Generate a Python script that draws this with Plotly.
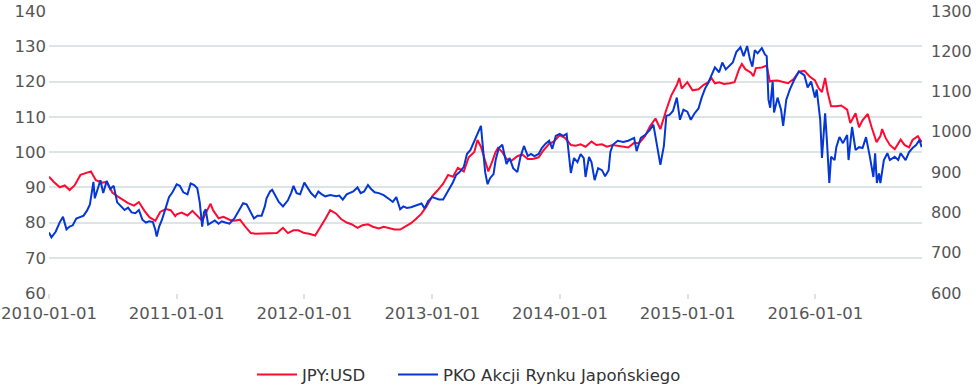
import plotly.graph_objects as go

# ---------------- data ----------------
jpy_dates = [
    "2010-01-01","2010-01-15","2010-02-01","2010-02-15","2010-03-01","2010-03-15","2010-04-01","2010-04-15",
    "2010-05-01","2010-05-15","2010-06-01","2010-06-15","2010-07-01","2010-07-15","2010-08-01","2010-08-15",
    "2010-09-01","2010-09-15","2010-10-01","2010-10-15","2010-11-01","2010-11-15","2010-12-01","2010-12-15","2010-12-28",
    "2011-01-01","2011-01-15","2011-02-01","2011-02-15","2011-03-01","2011-03-15","2011-04-01","2011-04-08","2011-04-15",
    "2011-05-01","2011-05-15","2011-06-01","2011-06-15","2011-07-01","2011-07-15","2011-08-01","2011-08-15",
    "2011-09-01","2011-09-15","2011-10-01","2011-10-15","2011-11-01","2011-11-15","2011-12-01","2011-12-15",
    "2012-01-01","2012-01-15","2012-02-01","2012-02-15","2012-03-01","2012-03-15","2012-04-01","2012-04-15",
    "2012-05-01","2012-05-15","2012-06-01","2012-06-15","2012-07-01","2012-07-15","2012-08-01","2012-08-15",
    "2012-09-01","2012-09-15","2012-10-01","2012-10-15","2012-11-01","2012-11-15","2012-12-01","2012-12-15",
    "2013-01-01","2013-01-15","2013-02-01","2013-02-15","2013-03-01","2013-03-15","2013-04-01","2013-04-15",
    "2013-05-01","2013-05-10","2013-05-20","2013-06-01","2013-06-10","2013-06-20","2013-07-01","2013-07-08","2013-07-20",
    "2013-08-01","2013-08-15","2013-09-01","2013-09-15","2013-10-01","2013-10-15","2013-11-01","2013-11-15",
    "2013-12-01","2013-12-15","2013-12-31",
    "2014-01-15","2014-02-01","2014-02-15","2014-03-01","2014-03-15","2014-04-01","2014-04-15",
    "2014-05-01","2014-05-15","2014-06-01","2014-06-15","2014-07-01","2014-07-15","2014-08-01","2014-08-15",
    "2014-09-01","2014-09-15","2014-10-01","2014-10-15","2014-11-01","2014-11-15","2014-12-01","2014-12-08","2014-12-15","2014-12-31",
    "2015-01-15","2015-02-01","2015-02-15","2015-03-01","2015-03-10","2015-03-20","2015-04-01","2015-04-15",
    "2015-05-01","2015-05-15","2015-05-28","2015-06-05","2015-06-15","2015-07-01","2015-07-08","2015-07-15",
    "2015-08-01","2015-08-15","2015-08-24","2015-09-01","2015-09-15","2015-10-01","2015-10-15","2015-11-01",
    "2015-11-15","2015-12-01","2015-12-15","2015-12-31",
    "2016-01-10","2016-01-20","2016-01-29","2016-02-05","2016-02-15","2016-03-01","2016-03-15","2016-04-01",
    "2016-04-10","2016-04-25","2016-05-05","2016-05-15","2016-05-30","2016-06-10","2016-06-24","2016-07-05",
    "2016-07-10","2016-07-20","2016-08-01","2016-08-15","2016-09-01","2016-09-12","2016-09-25","2016-10-05",
    "2016-10-20","2016-10-31",
]
jpy_values = [
    93.0, 91.5, 90.0, 90.5, 89.2, 90.5, 93.5, 94.0,
    94.5, 92.0, 91.3, 91.5, 88.5, 87.5, 86.5, 85.5,
    84.8, 85.8, 83.3, 81.5, 80.5, 83.0, 83.8, 83.5, 81.8,
    82.3, 82.8, 82.0, 83.3, 82.0, 80.5, 84.0, 85.3, 83.5,
    81.2, 81.6, 80.8, 80.5, 80.8, 79.0, 77.0, 76.8,
    76.8, 77.0, 76.8, 77.0, 78.5, 77.0, 77.8, 77.8,
    77.0, 76.8, 76.3, 78.5, 81.0, 83.5, 82.5, 81.0,
    80.0, 79.5, 78.5, 79.2, 79.5, 78.8, 78.3, 78.8,
    78.3, 78.0, 78.0, 78.8, 79.8, 81.0, 82.5, 84.5,
    87.5, 89.0, 91.0, 93.5, 93.0, 95.5, 94.5, 98.5,
    100.0, 103.4, 101.5, 97.5, 94.5, 97.0, 100.0, 101.2, 100.0,
    98.0, 97.5, 98.8, 99.3, 98.0, 98.0, 98.5, 100.5,
    102.3, 103.0, 104.8,
    104.0, 102.0, 101.8, 102.2, 101.5, 103.0, 102.0,
    102.2, 101.5, 102.0, 101.8, 101.5, 101.3, 102.6, 102.5,
    104.5, 107.2, 109.5, 106.5, 112.0, 116.0, 119.0, 121.0, 118.0, 119.8,
    117.5, 117.8, 119.0, 119.8, 121.0, 119.5, 119.8, 119.3,
    119.5, 119.8, 123.5, 125.0, 123.5, 122.5, 121.5, 123.8,
    124.0, 124.5, 120.0, 120.2, 120.3, 119.8, 119.5, 120.8,
    122.8, 123.0, 121.5, 120.3,
    118.2, 117.0, 121.0, 117.0, 113.0, 113.0, 113.2, 112.0,
    108.2, 111.0, 107.0, 109.0, 110.8, 107.0, 102.8, 104.5,
    106.5, 104.0, 102.0, 100.8, 103.5, 102.0, 101.3, 103.4,
    104.5, 102.8,
]

pko_dates = [
    "2010-01-01","2010-01-08","2010-01-20","2010-02-01","2010-02-10","2010-02-20","2010-03-01","2010-03-10",
    "2010-03-20","2010-04-01","2010-04-10","2010-04-20","2010-04-28","2010-05-03","2010-05-08","2010-05-12",
    "2010-05-20","2010-05-28","2010-06-05","2010-06-15","2010-06-25","2010-07-05","2010-07-15","2010-07-25",
    "2010-08-05","2010-08-15","2010-08-25","2010-09-05","2010-09-15","2010-09-25","2010-10-05","2010-10-15",
    "2010-10-25","2010-11-01","2010-11-05","2010-11-12","2010-11-20","2010-12-01","2010-12-10","2010-12-20",
    "2011-01-01","2011-01-10","2011-01-20","2011-02-01","2011-02-10","2011-02-20","2011-03-01","2011-03-08",
    "2011-03-15","2011-03-20","2011-03-25","2011-04-01","2011-04-10","2011-04-20","2011-05-01","2011-05-10",
    "2011-05-20","2011-06-01","2011-06-15","2011-07-01","2011-07-10","2011-07-20","2011-08-01","2011-08-10",
    "2011-08-20","2011-09-01","2011-09-10","2011-09-15","2011-09-25","2011-10-01","2011-10-10","2011-10-20",
    "2011-11-01","2011-11-15","2011-11-25","2011-12-01","2011-12-10","2011-12-20",
    "2012-01-01","2012-01-10","2012-01-20","2012-02-01","2012-02-10","2012-02-20","2012-03-01","2012-03-15",
    "2012-04-01","2012-04-10","2012-04-20","2012-05-01","2012-05-10","2012-05-20","2012-06-01","2012-06-10",
    "2012-06-20","2012-07-01","2012-07-10","2012-07-20","2012-08-01","2012-08-15","2012-09-01","2012-09-10",
    "2012-09-20","2012-10-01","2012-10-10","2012-10-20","2012-11-01","2012-11-15","2012-12-01","2012-12-10",
    "2012-12-20",
    "2013-01-01","2013-01-10","2013-01-20","2013-02-01","2013-02-10","2013-02-20","2013-03-01","2013-03-10",
    "2013-03-20","2013-04-01","2013-04-10","2013-04-20","2013-05-01","2013-05-10","2013-05-20","2013-05-25",
    "2013-06-01","2013-06-08","2013-06-15","2013-06-25","2013-07-01","2013-07-10","2013-07-20","2013-08-01",
    "2013-08-10","2013-08-20","2013-09-01","2013-09-10","2013-09-20","2013-10-01","2013-10-10","2013-10-20",
    "2013-11-01","2013-11-10","2013-11-20","2013-12-01","2013-12-10","2013-12-20","2013-12-31",
    "2014-01-10","2014-01-20","2014-01-25","2014-02-01","2014-02-10","2014-02-20","2014-03-01","2014-03-10",
    "2014-03-15","2014-03-25","2014-04-01","2014-04-10","2014-04-20","2014-05-01","2014-05-10","2014-05-20",
    "2014-05-25","2014-06-01","2014-06-15","2014-07-01","2014-07-15","2014-08-01","2014-08-08","2014-08-20",
    "2014-09-01","2014-09-15","2014-09-25","2014-10-05","2014-10-15","2014-10-25","2014-11-01","2014-11-10",
    "2014-11-20","2014-12-01","2014-12-10","2014-12-20","2014-12-31",
    "2015-01-10","2015-01-20","2015-02-01","2015-02-10","2015-02-20","2015-03-01","2015-03-10","2015-03-20",
    "2015-04-01","2015-04-10","2015-04-20","2015-05-01","2015-05-10","2015-05-20","2015-06-01","2015-06-10",
    "2015-06-20","2015-06-28","2015-07-05","2015-07-12","2015-07-20","2015-08-01","2015-08-10","2015-08-15",
    "2015-08-20","2015-08-25","2015-09-01","2015-09-05","2015-09-15","2015-09-25","2015-10-01","2015-10-10",
    "2015-10-20","2015-11-01","2015-11-15","2015-12-01","2015-12-10","2015-12-20","2015-12-31",
    "2016-01-05","2016-01-10","2016-01-15","2016-01-20","2016-01-29","2016-02-03","2016-02-10","2016-02-15",
    "2016-02-25","2016-03-01","2016-03-10","2016-03-20","2016-04-01","2016-04-05","2016-04-15","2016-04-25",
    "2016-05-05","2016-05-15","2016-05-25","2016-06-05","2016-06-15","2016-06-20","2016-06-25","2016-07-01",
    "2016-07-05","2016-07-15","2016-07-25","2016-08-01","2016-08-15","2016-08-25","2016-09-01","2016-09-15",
    "2016-09-25","2016-10-05","2016-10-15","2016-10-25","2016-10-31",
]
pko_values = [
    750, 738, 752, 776, 789, 758, 765, 768,
    785, 790, 792, 805, 820, 848, 876, 835,
    860, 880, 848, 878, 858, 866, 825, 815,
    806, 812, 800, 798, 806, 782, 775, 778,
    776, 757, 740, 765, 782, 812, 838, 850,
    870, 866, 850, 845, 872, 868, 860, 825,
    765, 800, 808, 770, 775, 780, 772, 778,
    775, 772, 785, 808, 823, 820, 800, 785,
    792, 792, 815, 835, 852, 856, 842, 826,
    815, 830, 850, 866, 848, 845,
    874, 862, 848, 838, 852, 845, 840, 843,
    840, 842, 832, 845, 848, 852, 862, 848,
    852, 868, 858, 850, 848, 843, 832, 826,
    838, 808, 815, 811, 813, 818, 822, 810,
    828,
    838, 835, 832, 832, 845, 860, 875, 893,
    900, 913, 945, 955, 975, 995, 1015, 960,
    900, 870, 885, 895, 930, 960, 968, 920,
    935, 910, 900, 938, 965, 940, 945, 940,
    945, 960, 970, 978, 958, 990, 995,
    990, 995, 955, 898, 935, 925, 945, 935,
    888, 938, 925, 880, 910, 905, 890, 905,
    950, 968, 978, 975, 978, 985, 952, 985,
    992, 1005, 1018, 970, 918, 965, 1040, 1042,
    1052, 1085, 1030, 1055, 1050,
    1030, 1045, 1058, 1085, 1108, 1122, 1140, 1160,
    1148, 1172, 1155, 1165, 1172, 1198, 1210, 1188,
    1213, 1180, 1162, 1203, 1195, 1208, 1192, 1188,
    1080, 1060, 1125, 1048, 1085, 1055, 1015, 1080,
    1105, 1128, 1150, 1140, 1110, 1125, 1085,
    1105, 1060, 1030, 935, 1046, 980, 873, 938,
    930, 962, 987, 972, 992, 930, 1012, 955,
    962, 960, 987, 938, 888, 947, 873, 897,
    873, 930, 947, 930, 938, 930, 947, 930,
    950, 960, 967, 980, 962,
]

left_ticks = [60, 70, 80, 90, 100, 110, 120, 130, 140]
right_ticks = [600, 700, 800, 900, 1000, 1100, 1200, 1300]
x_ticks = ["2010-01-01", "2011-01-01", "2012-01-01", "2013-01-01",
           "2014-01-01", "2015-01-01", "2016-01-01"]

RED = "#FF0A32"
BLUE = "#0536D6"
GRID = "#DCE4E5"
TXT = "#555555"

fig = go.Figure()
fig.add_trace(go.Scatter(x=jpy_dates, y=jpy_values, name="JPY:USD", mode="lines",
                         line=dict(color=RED, width=2), yaxis="y", legend="legend"))
fig.add_trace(go.Scatter(x=pko_dates, y=pko_values, name="PKO Akcji Rynku Japońskiego",
                         mode="lines", line=dict(color=BLUE, width=2), yaxis="y2",
                         legend="legend2"))

legend_common = dict(orientation="h", xanchor="left", y=-0.29, yanchor="middle",
                     font=dict(size=16.5, color="#333333", family="DejaVu Sans"),
                     itemwidth=40, bgcolor="rgba(0,0,0,0)")

fig.update_layout(
    width=976, height=388,
    margin=dict(l=49, r=54, t=11, b=95, autoexpand=False),
    paper_bgcolor="white", plot_bgcolor="white",
    font=dict(family="DejaVu Sans", size=16, color=TXT),
    showlegend=True,
    legend=dict(x=(252 - 49) / 873, **legend_common),
    legend2=dict(x=(393 - 49) / 873, **legend_common),
    xaxis=dict(type="date", range=["2010-01-01", "2016-11-01"],
               tickvals=x_ticks, ticktext=x_ticks, automargin=False,
               showgrid=False, showline=False, zeroline=False,
               ticks="outside", ticklen=5, tickwidth=2, tickcolor=GRID,
               tickfont=dict(size=16.5, color=TXT)),
    yaxis=dict(range=[60, 140], tickvals=left_ticks, showgrid=True, gridcolor=GRID,
               gridwidth=2, zeroline=False, showline=False, ticks="", automargin=False,
               tickfont=dict(size=16.5, color=TXT), ticklabelstandoff=2),
    yaxis2=dict(range=[600, 1300], tickvals=right_ticks, overlaying="y", side="right",
                showgrid=False, zeroline=False, showline=False, ticks="", automargin=False,
                tickfont=dict(size=16, color=TXT), ticklabelstandoff=8),
)

fig.write_html("out.html", config={"displayModeBar": False},
               post_script="document.body.style.margin='0px';document.body.style.overflow='hidden';")
